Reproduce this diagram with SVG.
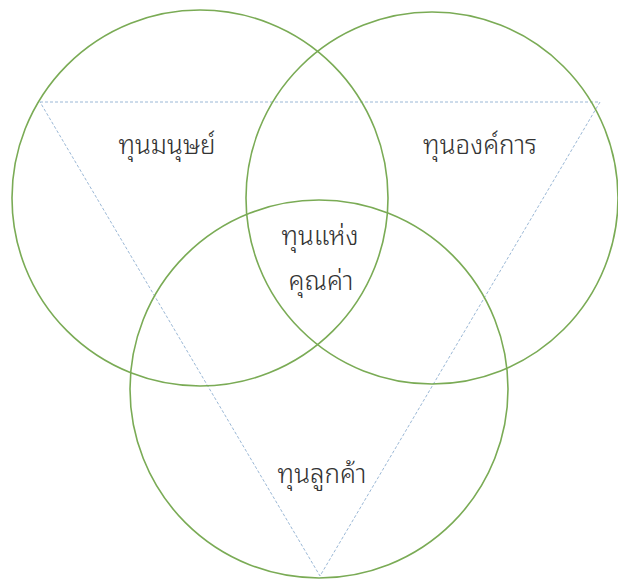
<svg xmlns="http://www.w3.org/2000/svg" width="618" height="579" viewBox="0 0 618 579">
<style>
.c{fill:none;stroke:#7aab55;stroke-width:1.6}
.t{fill:none;stroke:#9bb8d6;stroke-width:1;stroke-dasharray:3 2}
.l{font-family:"Noto Sans Thai Looped","Noto Sans Thai","Noto Sans",sans-serif;font-weight:300;font-size:26px;fill:#333;text-anchor:middle}
</style>
<rect width="618" height="579" fill="#fff"/>
<g id="connectors">
<polygon class="t" points="40,102 600,102 320,576"/>
</g>
<g id="human"><circle class="c" cx="200" cy="198" r="188"/><text class="l" x="167" y="154">ทุนมนุษย์</text></g>
<g id="org"><circle class="c" cx="432" cy="198" r="186"/><text class="l" x="480" y="154">ทุนองค์การ</text></g>
<g id="customer"><circle class="c" cx="319" cy="389" r="189"/><text class="l" x="322" y="483">ทุนลูกค้า</text></g>
<g id="value"><text class="l" x="320" y="245">ทุนแห่ง</text><text class="l" x="321" y="290">คุณค่า</text></g>
</svg>
